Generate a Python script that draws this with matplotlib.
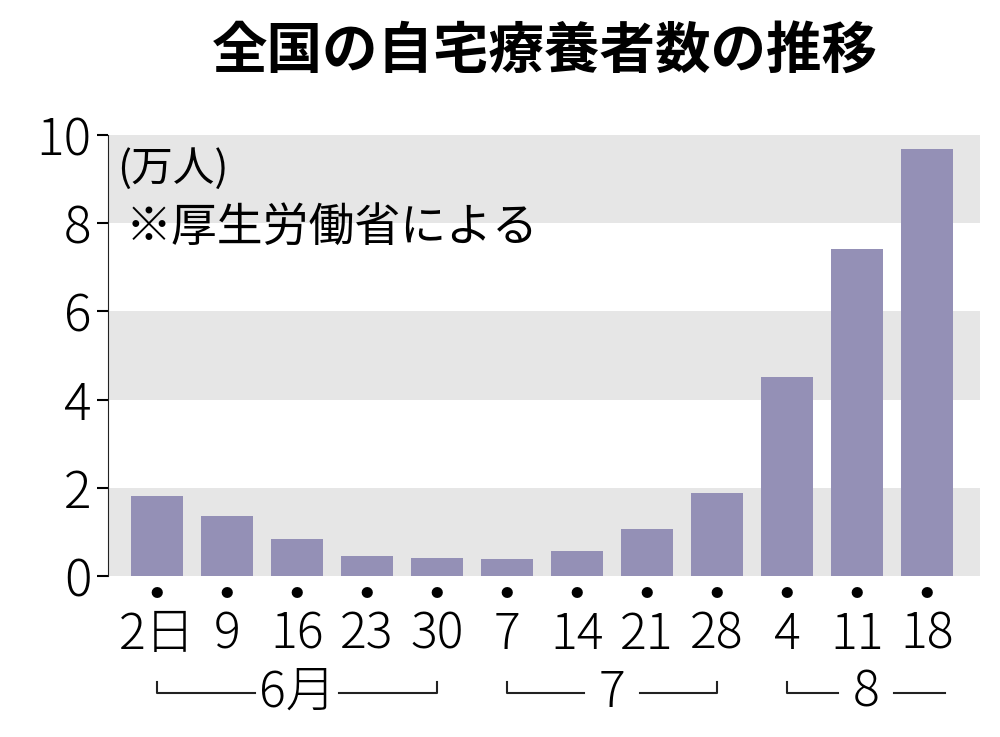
import matplotlib
matplotlib.use("Agg")
import matplotlib.pyplot as plt
from matplotlib.transforms import blended_transform_factory

plt.rcParams['font.family'] = ['Noto Sans CJK JP', 'DejaVu Sans']

labels = ["2日", "9", "16", "23", "30", "7", "14", "21", "28", "4", "11", "18"]
values = [1.82, 1.36, 0.84, 0.45, 0.41, 0.39, 0.57, 1.07, 1.89, 4.52, 7.41, 9.68]
months = [("6月", 0, 4, True), ("7", 5, 8, True), ("8", 9, 11.25, False)]

fig = plt.figure(figsize=(10, 7.37), dpi=100)
ax = fig.add_axes([0.108, 0.2185, 0.872, 0.5983])
ax.set_xlim(-0.7, 11.757)
ax.set_ylim(0, 10)
for lo in (0, 4, 8):
    ax.axhspan(lo, lo + 2, color='#e6e6e6', zorder=0, lw=0)
x = list(range(len(values)))
ax.bar(x, values, width=0.74, color='#9490b6', zorder=2)
for s in ('top', 'right', 'bottom'):
    ax.spines[s].set_visible(False)
ax.spines['left'].set_color('#222222')
ax.set_yticks([0, 2, 4, 6, 8, 10])
ax.tick_params(axis='y', labelsize=37, length=8, width=1.5, pad=4)
for t in ax.get_yticklabels():
    t.set_fontweight('light')
ax.set_xticks([])

tr = blended_transform_factory(ax.transData, fig.transFigure)
for i, lab in enumerate(labels):
    fig.text(i, 1 - 593 / 737, "●", transform=tr, ha='center', va='center', fontsize=9)
    fig.text(i, 1 - 635 / 737, lab, transform=tr, ha='center', va='center', fontsize=36,
             fontweight='light')

ly = 1 - 693 / 737
uy = 1 - 682 / 737
for name, a, b, right_tick in months:
    mid = (a + b) / 2
    gap = 0.6 if len(name) > 1 else 0.4
    fig.add_artist(plt.Line2D([a, a, mid - gap], [uy, ly, ly], transform=tr, color='#222', lw=1.5))
    if right_tick:
        fig.add_artist(plt.Line2D([mid + gap, b, b], [ly, ly, uy], transform=tr, color='#222', lw=1.5))
    else:
        fig.add_artist(plt.Line2D([mid + gap, b], [ly, ly], transform=tr, color='#222', lw=1.5))
    fig.text(mid, ly, name, transform=tr, ha='center', va='center', fontsize=36, fontweight='light')

fig.text(0.545, 1 - 52 / 737, "全国の自宅療養者数の推移", ha='center', va='center',
         fontsize=40, fontweight='bold')
ax.text(0.01, 0.97, "(万人)", transform=ax.transAxes, fontsize=30, va='top', ha='left')
ax.text(0.02, 0.79, "※厚生労働省による", transform=ax.transAxes, fontsize=33, va='center', ha='left')

fig.savefig("out.png", dpi=100)
